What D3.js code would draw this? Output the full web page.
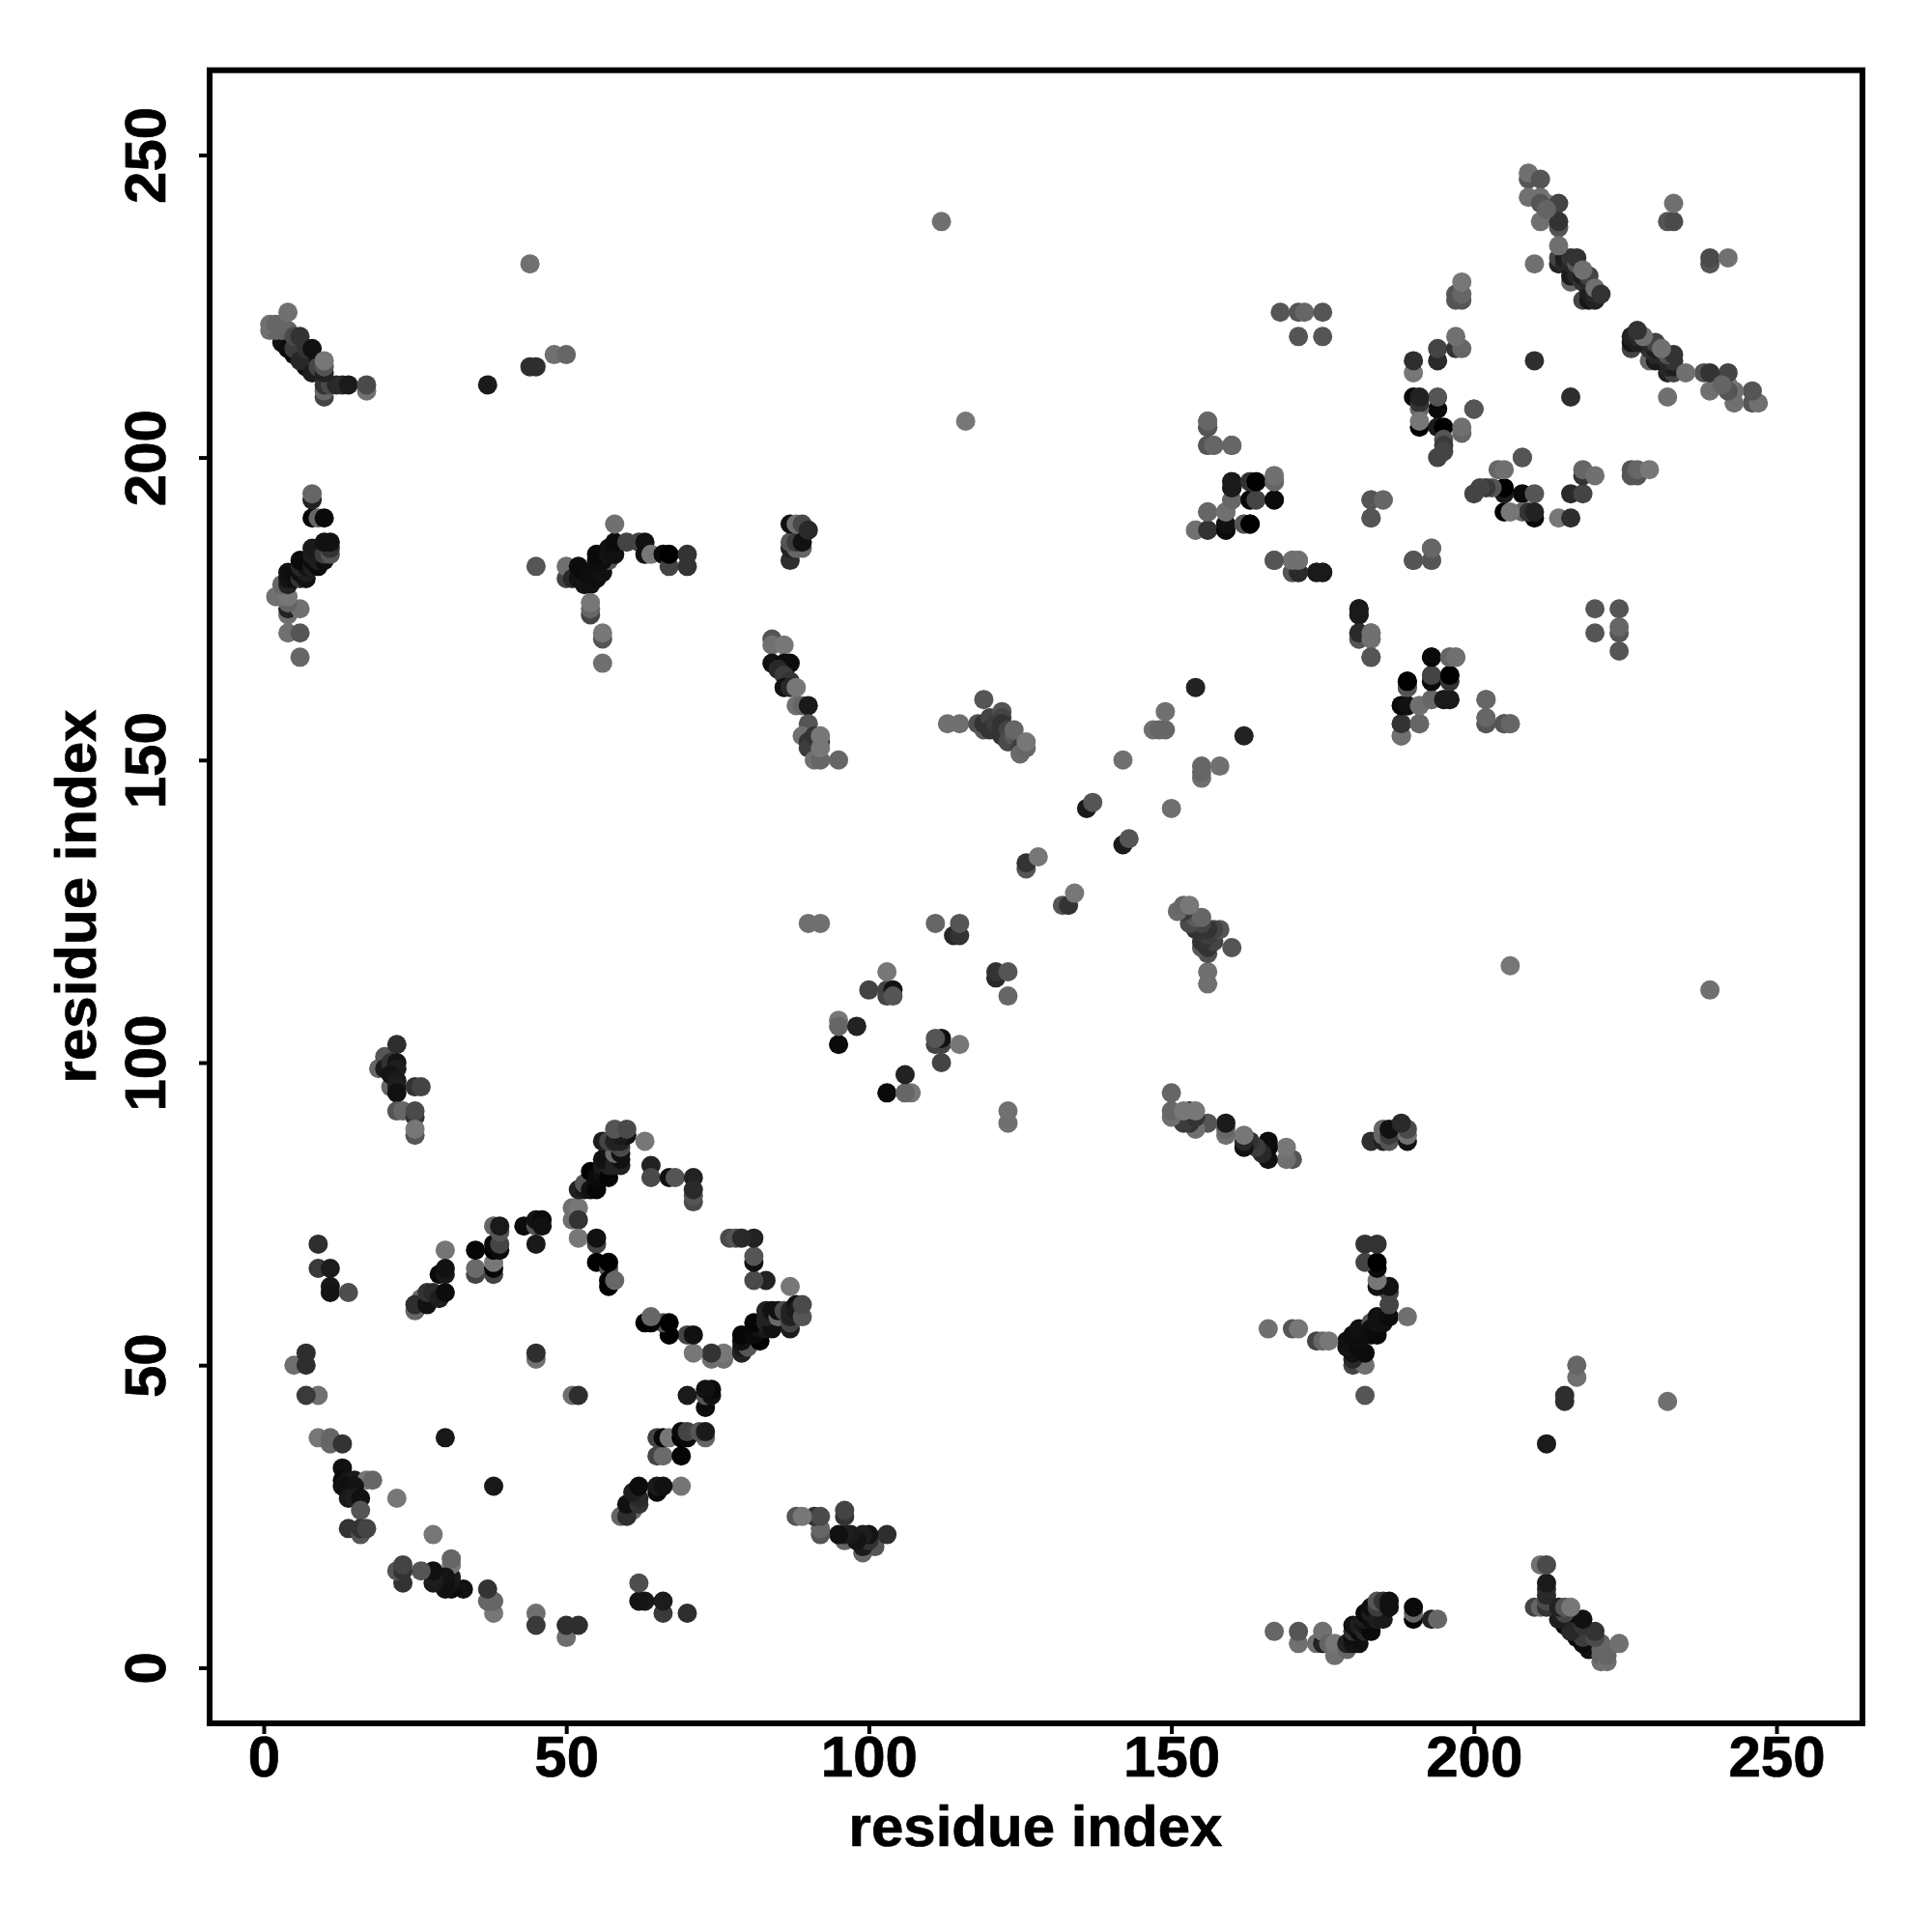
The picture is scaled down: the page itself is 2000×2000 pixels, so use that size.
<!DOCTYPE html>
<html><head><meta charset="utf-8">
<script src="https://cdnjs.cloudflare.com/ajax/libs/d3/7.8.5/d3.min.js"></script>
<style>html,body{margin:0;background:#fff}svg{display:block}text{font-family:"Liberation Sans",Arial,sans-serif;font-weight:700;fill:#000;stroke:#000;stroke-width:0.7px}</style>
</head><body><svg id="c" width="2000" height="2000"></svg>
<script>
// each contact: [residue i, residue j, grey level 0-255]; the map is symmetric
const axisTicks=[0,50,100,150,200,250];
const axisTitle="residue index";
const loopContacts=[
[9,70,46],[9,66,58],[11,66,28],[11,63,24],[11,62,20],[14,62,78],[5,50,110],[7,52,46],[7,50,46],[9,45,112],[7,45,58],
[30,69,117],[26,61,106],[25,59,102],[25,60,46],[27,60,17],[27,62,51],[28,62,42],[29,61,30],[30,62,12],[29,65,10],[30,65,26],[30,66,17],
[35,65,68],[35,66,106],[35,69,6],
[38,65,68],[38,66,8],[38,67,119],[38,69,0],[38,70,10],[39,69,10],[39,70,68],[38,73,102],[39,72,85],[39,73,26],
[43,73,12],[45,73,85],[45,74,17],[46,74,10],[46,73,17],[45,70,26],[45,51,112],[45,52,46],
[51,74,110],[51,76,112],[52,76,119],[52,74,51],[52,71,119],
[55,70,68],[55,71,17],[55,67,0],[57,66,85],[57,67,0],[57,64,6],[57,63,0],[58,64,102],
[52,79,34],[53,79,26],[53,80,85],[54,79,17],[55,79,6],[54,82,0],[55,81,10],[56,82,17],[56,83,26],[57,81,5],[57,83,34],[56,84,17],[58,83,34],[59,83,34],[59,84,17],[58,85,106],[59,85,17],[59,86,74],[56,87,28],[57,87,68],[58,87,34],[59,87,34],[60,88,17],[59,88,26],[58,89,85],[60,89,74],
[63,87,119],[64,83,34],[64,81,74],[67,81,17],[68,81,85],[71,81,34],[71,77,74],[71,78,85],[71,79,42]
];
const innerLoopContacts=[
[30,38,24],[9,38,119],[11,38,102],[11,37,102],[13,37,51],[13,33,17],[13,31,10],[13,30,17],[14,31,20],[15,31,26],[17,31,119],[18,31,102],[14,30,14],[15,30,20],[14,29,17],[15,29,20],[14,28,26],[15,28,30],[16,28,17],[16,26,85],[14,23,51],[16,22,85],[16,23,51],[17,23,68],[22,28,119]
];
const strandContacts=[
[19,99,102],[20,101,85],[20,99,26],[21,100,50],[21,96,102],[22,103,46],[22,100,20],[22,99,30],[21,98,20],[22,97,26],[22,96,30],[22,95,17],[25,96,51],[26,96,68],[22,92,85],[23,92,102],[25,91,51],[25,92,74],[25,88,85],[25,89,119],
[95,103,10],[95,107,119],[95,106,102],[98,106,34],[100,112,68],[103,111,68],[103,112,68],[104,112,17],[104,111,85],[103,115,119],
[111,123,102],[114,121,40],[115,121,51],[115,123,85],[90,123,112],[92,123,112],[126,132,85],[126,133,51],[128,134,119],[136,142,26],[137,143,85],[142,150,112],[147,155,112],[148,155,102],[149,155,102],[149,158,112],[154,162,34]
];
const midContacts=[
[113,156,112],[115,156,112],[118,156,80],[119,160,85],[119,155,90],[119,156,51],[120,157,68],[120,155,51],[121,156,60],[122,158,85],[122,157,68],[122,156,51],[122,155,51],[122,154,51],[123,155,68],[123,153,74],[124,154,90],[125,153,85],[124,155,102],[125,152,60],[125,151,106],[126,152,102],[126,153,119],
[84,170,85],[84,169,112],[86,169,119],[84,166,17],[86,166,10],[87,166,12],[85,165,40],[86,164,60],[87,163,51],[86,162,17],[87,162,40],[88,162,119],[88,159,112],[89,159,102],[90,159,26],[90,156,85],[89,154,112],[91,153,40],[90,153,51],[91,152,34],[90,152,60],[91,154,51],[92,153,51],[91,150,112],[92,150,102],[92,152,119],[92,154,119],[95,150,102]
];
const nTerminalContacts=[
[3,219,17],[4,218,12],[5,217,10],[6,217,10],[7,216,12],[7,215,10],[8,215,12],[9,214,12],[5,218,60],[6,216,40],[8,214,30],[9,215,70],[1,221,112],[2,221,100],[3,221,102],[4,221,100],[1,222,112],[2,222,102],[3,222,102],[4,224,112],[5,220,74],[6,220,51],[7,218,51],[8,218,17],
[10,210,68],[10,211,102],[10,212,51],[11,212,74],[12,212,40],[13,212,42],[14,212,26],[17,211,112],[17,212,74],[10,214,34],[10,215,85],[10,216,119],
[37,212,26],[44,215,46],[45,215,46],[48,217,112],[50,217,102],[44,232,112],[112,239,112],[116,206,119],
[6,167,102],[4,171,112],[6,171,85],[4,174,112],[4,175,34],[6,175,112],[4,176,100],[2,177,112],[3,177,112],[4,177,119],[3,179,102],[4,179,34],[4,180,20],[5,180,14],[4,181,17],[5,181,14],[6,180,50],[6,181,14],[7,180,17],[7,181,30],[6,182,40],[7,182,20],[6,183,10],[7,183,10],[8,182,30],[8,183,14],[9,182,10],[9,183,30],[10,183,14],[8,184,30],[8,185,26],[9,185,26],[10,184,60],[11,184,85],[11,185,51],[10,186,17],[11,186,17],[8,190,5],[9,190,102],[10,190,10],[8,193,34],[8,194,102]
];
const centralContacts=[
[45,182,85],[50,180,68],[50,182,112],[51,180,40],[52,180,17],[52,182,12],[53,179,20],[54,179,17],[53,181,12],[54,181,14],[55,180,14],[56,181,17],[57,183,85],[55,183,14],[56,183,14],[55,184,10],[57,184,20],[57,185,17],[58,184,17],[58,186,12],[60,186,68],[58,189,112],[62,186,68],[63,184,17],[63,186,17],[64,184,119],[66,184,10],[67,182,68],[67,184,0],[70,182,51],[70,184,51],
[54,174,68],[54,175,102],[54,176,119],[56,170,85],[56,171,119],[56,166,112],
[87,183,46],[87,185,34],[88,185,102],[89,185,102],[87,186,85],[88,186,60],[89,186,17],[87,189,17],[88,189,112],[89,189,74],[90,188,42]
];
const cTerminalContacts=[
[156,205,85],[156,206,112],[156,202,102],[157,202,112],[160,202,102],[160,195,26],[160,196,17],[163,196,68],[164,196,5],[167,196,85],[167,197,112],[163,193,10],[164,193,68],[167,193,10],[160,193,102],[159,191,112],[156,191,102],[154,188,112],[156,188,51],[159,188,17],[159,189,10],[162,189,119],[163,189,0],
[167,183,85],[170,183,102],[171,183,112],[170,181,85],[171,181,34],[174,181,17],[175,181,17],[181,174,26],[181,175,26],[181,170,85],[181,171,42],[183,170,112],[183,171,112],[183,167,85],[183,190,85],[183,193,102],[185,193,112],[190,183,85],[193,183,85],[193,185,102],
[168,224,85],[171,224,85],[172,224,102],[175,224,85],[171,220,85],[175,220,85],
[188,154,112],[188,156,51],[191,156,102],[188,159,10],[189,159,17],[191,159,112],[189,162,85],[189,163,0],[193,160,102],[195,160,26],[196,160,26],[193,163,10],[193,164,68],[196,163,51],[196,164,0],[193,167,10],[196,167,102],[197,167,112],[202,156,85],[202,157,102],[202,160,102],[205,156,85],[206,156,102],
[190,214,119],[190,216,46],[194,216,42],[194,218,68],[197,218,51],[198,218,102],[197,220,112],[190,210,10],[194,208,10],[194,210,85],[191,208,102],[191,209,51],[191,210,34],[200,208,74],[191,205,0],[191,206,119],[194,205,26],[195,205,0],[195,203,85],[195,202,58],[195,201,68],[194,200,68],[198,204,102],[198,205,112],[208,200,85],[210,216,46],
[197,226,85],[197,227,85],[198,226,85],[198,227,102],[198,229,119],
[214,232,34],[214,233,68],[215,232,40],[215,233,30],[216,229,102],[216,230,26],[216,232,40],[216,233,51],[217,230,40],[217,232,85],[217,233,51],[218,226,68],[219,226,20],[220,226,34],[218,229,50],[218,230,30],[219,227,30],[220,227,40],[219,229,40],[219,230,68],[218,231,112],[220,228,112],[221,227,51],
[209,246,85],[209,247,112],[211,246,85],[209,243,112],[211,243,112],[212,242,119],[214,242,68],[211,239,112],[214,238,85],[214,239,51],[214,235,112],[210,232,112],[232,239,85],[233,239,74],[233,242,112],[211,242,85],[212,241,100]
];

const x=d3.scaleLinear().domain([0,250]).range([273,1839]);
const y=d3.scaleLinear().domain([0,250]).range([1726.4,160.4]);
const grey=d3.scaleLinear().domain([0,255]).range(["#000","#fff"]);
const svg=d3.select("#c");
const pairs=[loopContacts,innerLoopContacts,strandContacts,midContacts,nTerminalContacts,centralContacts,cTerminalContacts].flat();
const pts=pairs.flatMap(([i,j,g])=>[{a:i,b:j,g},{a:j,b:i,g}]);
svg.append("g").selectAll("circle").data(pts).join("circle")
  .attr("cx",d=>x(d.a)).attr("cy",d=>y(d.b)).attr("r",10).attr("fill",d=>grey(d.g));
svg.append("rect").attr("x",217).attr("y",72.7).attr("width",1711).attr("height",1711.3)
  .attr("fill","none").attr("stroke","#000").attr("stroke-width",6);
const ax=svg.append("g").attr("transform","translate(0,1784)").call(d3.axisBottom(x).tickValues(axisTicks).tickSize(11).tickSizeOuter(0));
const ay=svg.append("g").attr("transform","translate(217,0)").call(d3.axisLeft(y).tickValues(axisTicks).tickSize(11).tickSizeOuter(0));
[ax,ay].forEach(g=>{g.select(".domain").remove();g.selectAll("line").attr("stroke","#000").attr("stroke-width",4);
  g.selectAll("text").attr("font-size",60).attr("dy",0);});
ax.selectAll("text").attr("y",55);
ay.selectAll(".tick text").attr("x",0).attr("y",0).attr("text-anchor","middle").attr("transform",`translate(-46,0) rotate(-90)`);
svg.append("text").attr("x",1072).attr("y",1911).attr("text-anchor","middle").attr("font-size",60).text(axisTitle);
svg.append("text").attr("transform","translate(99,928) rotate(-90)").attr("text-anchor","middle").attr("font-size",60).text(axisTitle);
</script></body></html>
